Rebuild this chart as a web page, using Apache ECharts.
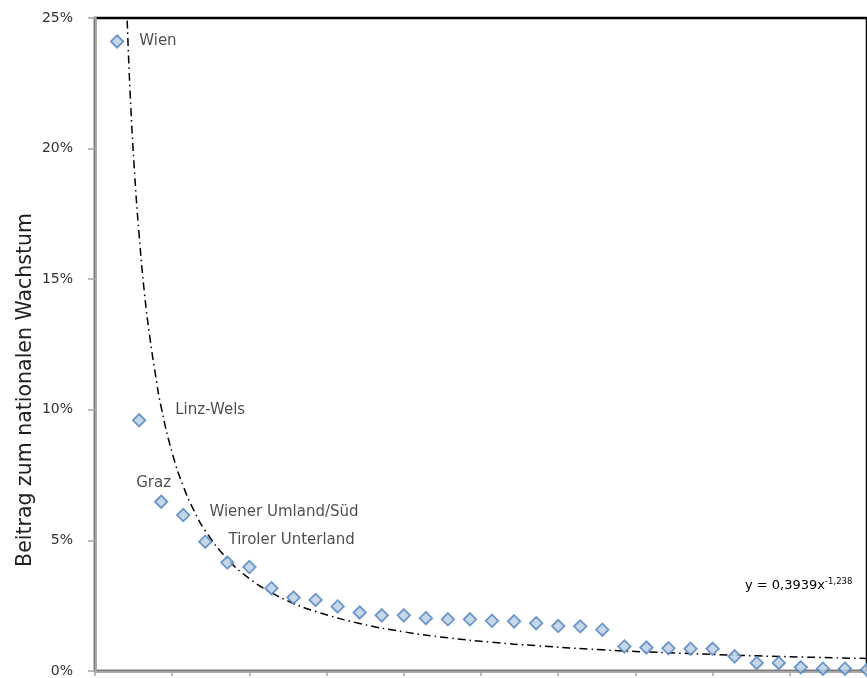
<!DOCTYPE html>
<html>
<head>
<meta charset="utf-8">
<script src="https://cdn.jsdelivr.net/npm/echarts@6/dist/echarts.min.js"></script>
<style>html,body{margin:0;padding:0;background:#fff;}#c{width:867px;height:678px;}</style>
</head>
<body>
<div id="c"></div>
<script>
// Rank of region (x) and its contribution to national growth (%)
const ranks = [1,2,3,4,5,6,7,8,9,10,11,12,13,14,15,16,17,18,19,20,21,22,23,24,25,26,27,28,29,30,31,32,33,34,35];
const shares = [24.1,9.6,6.48,5.97,4.95,4.15,3.98,3.17,2.81,2.72,2.47,2.24,2.13,2.13,2.02,1.98,1.98,1.92,1.90,1.83,1.72,1.71,1.58,0.94,0.90,0.87,0.85,0.85,0.56,0.31,0.31,0.14,0.09,0.09,0.05];
const labelNames = {0:'Wien',1:'Linz-Wels',2:'Graz',3:'Wiener Umland/Süd',4:'Tiroler Unterland'};
// Power trend line (x, %)
const trendX = [1.46,1.6,1.8,2,2.25,2.5,2.75,3,3.5,4,4.5,5,6,7,8,9,10,12,14,16,18,20,23,26,30,35];
const trendY = [24.9,22.0,19.0,16.7,14.4,12.7,11.3,10.1,8.35,7.08,6.12,5.37,4.29,3.54,3.00,2.59,2.28,1.82,1.50,1.27,1.10,0.97,0.81,0.70,0.58,0.48];
const yTicks = ['0%','5%','10%','15%','20%','25%'];
const yAxisTitle = 'Beitrag zum nationalen Wachstum';
const equationMain = 'y = 0,3939x';
const equationExp = '-1,238';

const FONT = 'DejaVu Sans';
const labelOffsets = {0:[15,0],1:[29,-10],2:[17,-19],3:[19,-3],4:[16,-2]};
const labelPos = {0:'right',1:'right',2:'left',3:'right',4:'right'};

const scatterData = ranks.map((r,i)=>{
  const d = {value:[r, shares[i]]};
  if (labelNames[i] !== undefined) {
    d.label = {show:true, formatter: labelNames[i], position: labelPos[i], distance:0, offset: labelOffsets[i],
      fontFamily:FONT, fontSize:15, color:'#1f1f1f'};
  }
  return d;
});

const chart = echarts.init(document.getElementById('c'), null, {renderer:'canvas'});
chart.setOption({
  animation:false,
  backgroundColor:'#fff',
  grid:{left:95, top:18, width:773, height:655, show:true, borderColor:'#000', borderWidth:2.5, backgroundColor:'transparent'},
  xAxis:{type:'value', min:0, max:35, interval:3.5,
    axisLine:{show:true, onZero:false, lineStyle:{color:'#a6a6a6', width:2.5}},
    axisTick:{show:true, length:5, lineStyle:{color:'#a6a6a6', width:1.5}},
    axisLabel:{show:false}, splitLine:{show:false}},
  yAxis:{type:'value', min:0, max:25, interval:5,
    axisLine:{show:true, onZero:false, lineStyle:{color:'#a6a6a6', width:2.5}},
    axisTick:{show:true, length:7, lineStyle:{color:'#a6a6a6', width:1.5}},
    axisLabel:{formatter:(v)=>yTicks[Math.round(v/5)], fontFamily:FONT, fontSize:14, color:'#333333', margin:22},
    splitLine:{show:false}},
  graphic:[
    {type:'text', x:26, y:390, rotation:Math.PI/2, style:{text:yAxisTitle, align:'center', verticalAlign:'middle', font:'20.5px "DejaVu Sans"', fill:'#1f1f1f'}},
    {type:'text', x:745, y:586, style:{text:'{a|'+equationMain+'}{b|'+equationExp+'}', verticalAlign:'middle',
      rich:{a:{fontFamily:FONT, fontSize:13, color:'#1f1f1f'}, b:{fontFamily:FONT, fontSize:8.5, color:'#1f1f1f', verticalAlign:'top', padding:[0,0,8,0]}}}}
  ],
  series:[
    {type:'line', data:trendX.map((x,i)=>[x,trendY[i]]), smooth:true, showSymbol:false, symbol:'none', clip:true,
      lineStyle:{color:'#000', width:1.5, type:[8,4,1.5,4]}, z:1},
    {type:'scatter', data:scatterData, symbol:'diamond', symbolSize:12.5, clip:false,
      itemStyle:{color:'#b9cde5', borderColor:'#4f81bd', borderWidth:1.8}, z:3}
  ]
});
</script>
</body>
</html>
